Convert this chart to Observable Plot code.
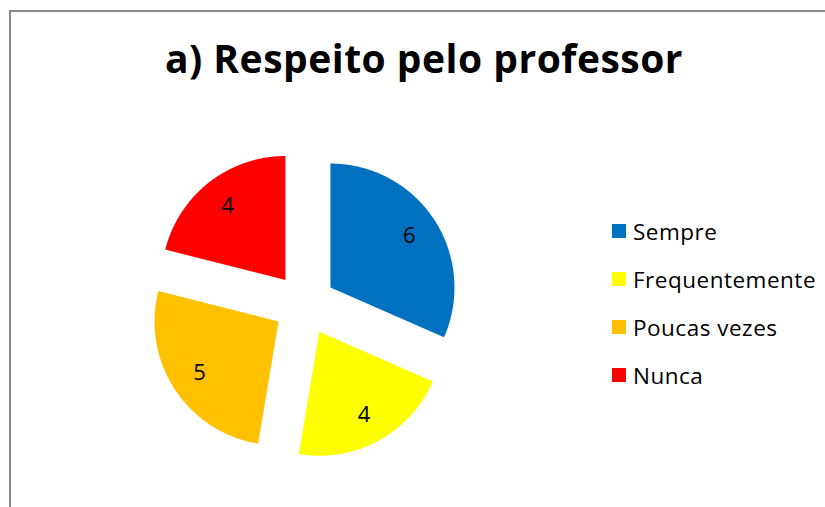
<!DOCTYPE html>
<html>
<head>
<meta charset="utf-8">
<script src="https://cdn.jsdelivr.net/npm/d3@7"></script>
<script src="https://cdn.jsdelivr.net/npm/@observablehq/plot@0.6"></script>
<style>
  html, body { margin: 0; padding: 0; background: #fff; }
  #wrap { position: relative; width: 825px; height: 507px; overflow: hidden; font-family: "Open Sans", Lato, sans-serif; }
  #frame { position: absolute; left: 9px; top: 10px; width: 900px; height: 600px; border-left: 2px solid #8a8a8a; border-top: 2px solid #8a8a8a; }
  #title { position: absolute; left: 0; width: 848px; top: 28px; text-align: center; font-weight: 700; font-size: 39px; color: #000; line-height: 60px; letter-spacing: 0.5px; }
  #chart { position: absolute; left: 0; top: 0; }
  #legend { position: absolute; left: 612px; top: 207px; }
  .item { display: flex; align-items: center; height: 48px; font-size: 22.5px; letter-spacing: 0.5px; color: #000; }
  .sw { width: 14px; height: 14px; margin-right: 7px; }
</style>
</head>
<body>
<div id="wrap">
  <div id="frame"></div>
  <div id="chart"></div>
  <div id="title">a) Respeito pelo professor</div>
  <div id="legend"></div>
</div>
<script>
const categories = ["Sempre", "Frequentemente", "Poucas vezes", "Nunca"];
const values = [6, 4, 5, 4];
const colors = ["#0070C0", "#FFFF00", "#FFC000", "#FF0000"];

const explode = 0.25;     // in radius units
const labelDist = 0.76;   // from slice apex, in radius units

const arcs = d3.pie().sort(null).startAngle(0).endAngle(2 * Math.PI)(values);

const polyRows = [];
const labelRows = [];
arcs.forEach((a, i) => {
  const mid = (a.startAngle + a.endAngle) / 2;
  const ox = explode * Math.sin(mid), oy = explode * Math.cos(mid);
  const cat = categories[i];
  polyRows.push({cat, x: ox, y: oy});
  const n = Math.max(2, Math.ceil((a.endAngle - a.startAngle) / 0.01));
  for (let k = 0; k <= n; k++) {
    const t = a.startAngle + (a.endAngle - a.startAngle) * k / n;
    polyRows.push({cat, x: ox + Math.sin(t), y: oy + Math.cos(t)});
  }
  polyRows.push({cat, x: ox, y: oy});
  labelRows.push({cat, value: values[i], x: ox + labelDist * Math.sin(mid), y: oy + labelDist * Math.cos(mid)});
});

const cx = 304, cy = 304, R = 124;
const chart = Plot.plot({
  width: 825,
  height: 507,
  margin: 0,
  x: {domain: [-cx / R, (825 - cx) / R], range: [0, 825], axis: null},
  y: {domain: [-(507 - cy) / R, cy / R], range: [507, 0], axis: null},
  color: {domain: categories, range: colors},
  marks: [
    Plot.line(polyRows, {x: "x", y: "y", z: "cat", fill: "cat", stroke: "none", curve: "linear"}),
    Plot.text(labelRows, {x: "x", y: "y", text: "value", fontSize: 22, fill: "#000", fontFamily: "'Open Sans', sans-serif"})
  ]
});
document.getElementById("chart").appendChild(chart);

const legend = document.getElementById("legend");
categories.forEach((c, i) => {
  const it = document.createElement("div");
  it.className = "item";
  const sw = document.createElement("div");
  sw.className = "sw";
  sw.style.background = colors[i];
  const tx = document.createElement("span");
  tx.textContent = c;
  it.appendChild(sw); it.appendChild(tx);
  legend.appendChild(it);
});
</script>
</body>
</html>
